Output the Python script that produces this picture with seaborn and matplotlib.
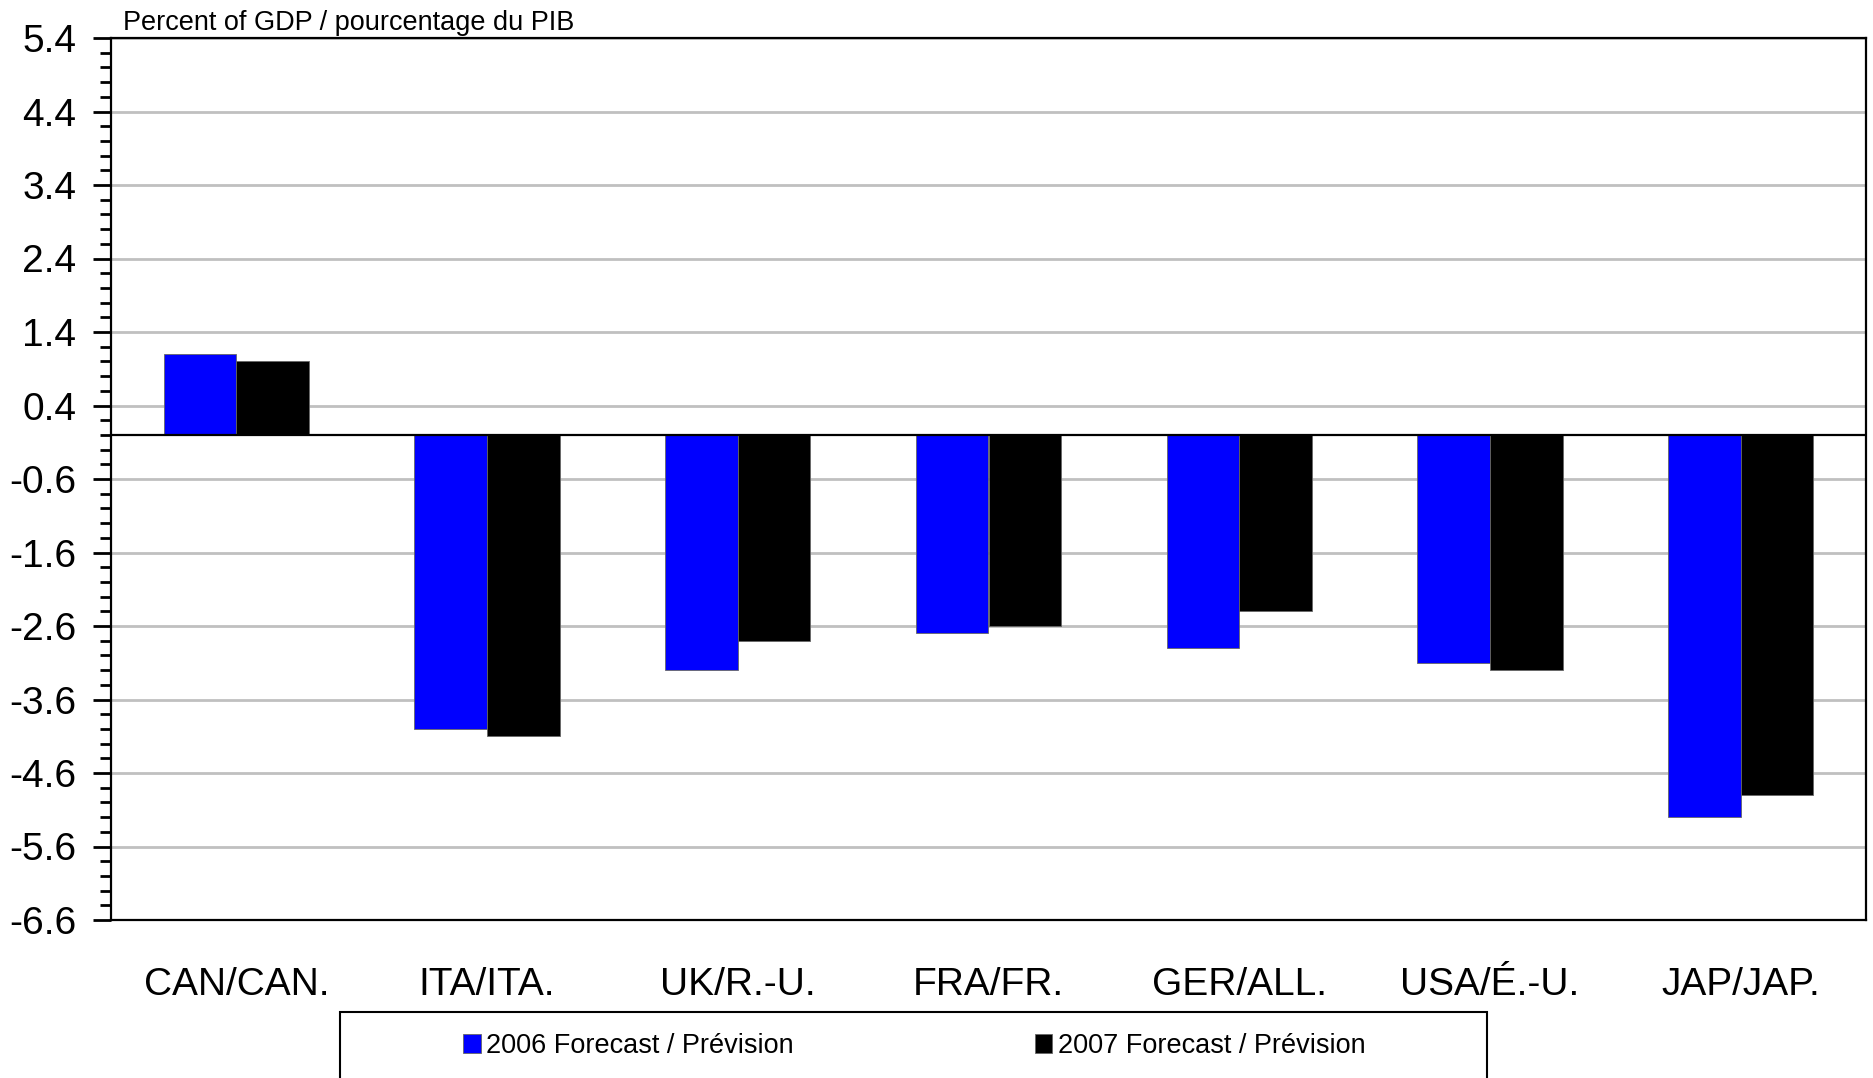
import pandas as pd
import matplotlib
matplotlib.use("Agg")
import matplotlib.pyplot as plt
from matplotlib.ticker import MultipleLocator, FormatStrFormatter
from matplotlib.patches import Rectangle
import seaborn as sns
import numpy as np

# ============================================
# DATA
# ============================================

countries = ["CAN/CAN.", "ITA/ITA.", "UK/R.-U.", "FRA/FR.", "GER/ALL.", "USA/É.-U.", "JAP/JAP."]
series    = ["2006 Forecast / Prévision", "2007 Forecast / Prévision"]
vals_2006 = [1.1, -4.0, -3.2, -2.7, -2.9, -3.1, -5.2]
vals_2007 = [1.0, -4.1, -2.8, -2.6, -2.4, -3.2, -4.9]
colors    = ["#0000FF", "#000000"]

df = pd.DataFrame({
    "Country": countries * 2,
    "Series":  [series[0]] * len(countries) + [series[1]] * len(countries),
    "Value":   vals_2006 + vals_2007,
})

# ============================================
# STYLE
# ============================================

sns.set_style("white")
plt.rcParams["font.family"] = ["Liberation Sans", "DejaVu Sans"]
plt.rcParams["text.color"] = "black"
plt.rcParams["xtick.color"] = "black"
plt.rcParams["ytick.color"] = "black"

W, H = 1873, 1078
fig = plt.figure(figsize=(W / 100, H / 100), dpi=100)
ax = fig.add_axes([111 / W, 1 - 920 / H, (1866 - 111) / W, (920 - 38) / H])

sns.barplot(data=df, x="Country", y="Value", hue="Series", palette=colors,
            width=0.58, saturation=1, edgecolor="#666666", linewidth=0.6, ax=ax)

handles, labels = ax.get_legend_handles_labels()
ax.get_legend().remove()

ax.set_ylim(-6.6, 5.4)
ax.set_yticks(np.arange(-6.6, 5.41, 1.0))
ax.yaxis.set_major_formatter(FormatStrFormatter("%.1f"))
ax.yaxis.set_minor_locator(MultipleLocator(0.2))
ax.tick_params(axis="y", which="major", length=13, width=2, labelsize=28, pad=12,
               color="black", labelcolor="black", left=True)
ax.tick_params(axis="y", which="minor", length=8, width=2, color="black", left=True)
ax.tick_params(axis="x", length=0, labelsize=28, pad=34, labelcolor="black")

ax.set_axisbelow(True)
ax.yaxis.grid(True, which="major", color="#c0c0c0", linewidth=2)
ax.axhline(0, color="black", linewidth=1.6, zorder=5)

for sp in ax.spines.values():
    sp.set_visible(True)
    sp.set_color("black")
    sp.set_linewidth(1.6)

ax.set_xlabel("")
ax.set_ylabel("")

fig.text(123 / W, 1 - 30 / H, "Percent of GDP / pourcentage du PIB",
         fontsize=19.5, ha="left", va="baseline", color="black")

# legend box (runs off the bottom edge as in the source)
fig.patches.append(Rectangle((340 / W, -0.02), (1487 - 340) / W, 0.02 + (1 - 1012 / H),
                             transform=fig.transFigure, facecolor="white",
                             edgecolor="black", linewidth=1.5))
leg = fig.legend(handles, labels, loc="center left", bbox_to_anchor=(463 / W, 1 - 1046 / H),
                 ncol=2, frameon=False, fontsize=19.5, handlelength=0.65, handleheight=0.65,
                 handletextpad=0.2, columnspacing=8.9, borderpad=0, borderaxespad=0)
for t in leg.get_texts():
    t.set_color("black")

fig.savefig("out.png", dpi=100)
